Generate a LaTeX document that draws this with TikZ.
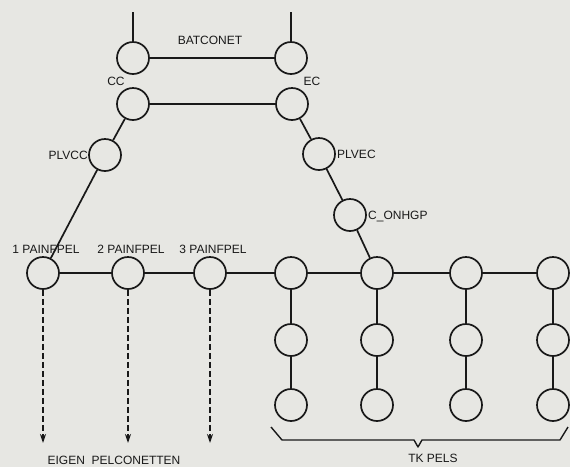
\documentclass[tikz,border=0pt]{standalone}
\usepackage{fontspec}
\setmainfont{Liberation Sans}
\usetikzlibrary{arrows.meta}
\definecolor{paper}{RGB}{231,231,227}
\definecolor{ink}{RGB}{25,25,25}
\begin{document}
\begin{tikzpicture}[x=1pt,y=-1pt,
    pel/.style={circle,draw=ink,line width=1.7pt,minimum size=32pt,inner sep=0pt},
    lbl/.style={text=ink,font=\fontsize{12}{12}\selectfont,inner sep=0pt},
    link/.style={draw=ink,line width=1.7pt},
    eigen/.style={link,dash pattern=on 6pt off 3pt,-{Stealth[length=9pt,width=6pt]}}]
  \fill[paper] (0,0) rectangle (570,467);
  \useasboundingbox (0,0) rectangle (570,467);
  % batconet
  \node[pel] (bcc) at (133,58) {};
  \node[pel] (bec) at (291,58) {};
  \coordinate (bccup) at (133,12);
  \coordinate (becup) at (291,12);
  \draw[link] (bcc) -- (bccup);
  \draw[link] (bec) -- (becup);
  \draw[link] (bcc) -- (bec);
  \node[lbl] (batconet) at (210,40) {BATCONET};
  % cc en ec
  \node[pel] (cc) at (133,104) {};
  \node[pel] (ec) at (292,104) {};
  \draw[link] (cc) -- (ec);
  \node[lbl] (cclbl) at (116,81) {CC};
  \node[lbl] (eclbl) at (312,81) {EC};
  \node[pel] (plvcc) at (105,155) {};
  \node[pel] (plvec) at (319,154) {};
  \node[pel] (onhgp) at (350,215) {};
  \node[lbl,anchor=east] (plvcclbl) at (88,155) {PLVCC};
  \node[lbl,anchor=west] (plveclbl) at (337,154) {PLVEC};
  \node[lbl,anchor=west] (onhgplbl) at (368,216) {C\_ONHGP};
  % painfpels
  \foreach \x [count=\i] in {43,128,210} {
    \node[pel] (p\i) at (\x,273) {};
    \node[lbl] (p\i lbl) at (\x+3,249) {\i\ PAINFPEL};
    \coordinate (p\i end) at (\x,443);
    \draw[eigen] (p\i) -- (p\i end);
  }
  % tk pels
  \foreach \x [count=\i] in {291,377,466,553} {
    \node[pel] (t\i a) at (\x,273) {};
    \node[pel] (t\i b) at (\x,340) {};
    \node[pel] (t\i c) at (\x,405) {};
    \draw[link] (t\i a) -- (t\i b) -- (t\i c);
  }
  \draw[link] (cc) -- (plvcc) -- (p1);
  \draw[link] (ec) -- (plvec) -- (onhgp) -- (t2a);
  \draw[link] (p1) -- (p2) -- (p3) -- (t1a) -- (t2a) -- (t3a) -- (t4a);
  % accolade
  \draw[link,line width=1.4pt,line join=round]
    (271,427) -- (282,440) -- (414,440) -- (418,447) -- (422,440)
    -- (560,440) -- (568,427);
  \node[lbl] (eigenlbl) at (114,460) {EIGEN\ \ PELCONETTEN};
  \node[lbl] (tklbl) at (433,458) {TK PELS};
\end{tikzpicture}
\end{document}
